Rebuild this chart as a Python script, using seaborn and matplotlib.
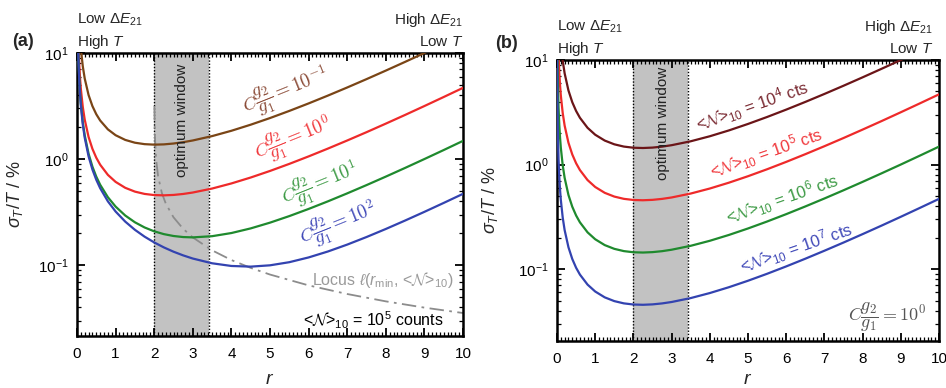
import numpy as np
import pandas as pd
import matplotlib
matplotlib.use("Agg")
import matplotlib.pyplot as plt
import matplotlib.transforms as mtransforms
import seaborn as sns
from matplotlib.ticker import MultipleLocator, LogLocator, NullFormatter, FixedLocator

# ---------------- data ----------------
r = [0.003, 0.005, 0.01, 0.02, 0.04, 0.06, 0.08, 0.1, 0.15, 0.2, 0.3, 0.4, 0.5, 0.6,
     0.8, 1.0, 1.25, 1.5, 1.75, 2.0, 2.25, 2.5, 2.75, 3.0, 3.5, 4.0, 4.5, 5.0, 5.5,
     6.0, 6.5, 7.0, 7.5, 8.0, 8.5, 9.0, 9.5, 10.0]

# panel (a): <N>_10 = 1e5 counts, different C g2/g1
a_brown = [350.1, 210.2, 105.4, 52.92, 26.70, 17.96, 13.60, 10.98, 7.489, 5.748, 4.014,
           3.154, 2.645, 2.311, 1.906, 1.679, 1.516, 1.427, 1.383, 1.368, 1.376, 1.402,
           1.443, 1.498, 1.647, 1.849, 2.110, 2.437, 2.845, 3.348, 3.968, 4.731, 5.670,
           6.825, 8.248, 10.00, 12.17, 14.84]
a_red = [149.2, 89.55, 44.83, 22.47, 11.29, 7.568, 5.705, 4.588, 3.100, 2.357, 1.616,
         1.248, 1.029, 0.8854, 0.7099, 0.6098, 0.5361, 0.4936, 0.4696, 0.4580, 0.4552,
         0.4593, 0.4691, 0.4840, 0.5277, 0.5895, 0.6704, 0.7731, 0.9012, 1.060, 1.256,
         1.497, 1.793, 2.159, 2.608, 3.163, 3.848, 4.693]
a_green = [110.6, 66.35, 33.18, 16.60, 8.307, 5.543, 4.161, 3.333, 2.227, 1.675, 1.123,
           0.8475, 0.6826, 0.5731, 0.4371, 0.3566, 0.2938, 0.2537, 0.2268, 0.2085, 0.1962,
           0.1884, 0.1841, 0.1828, 0.1876, 0.2009, 0.2222, 0.2517, 0.2902, 0.3389, 0.3997,
           0.4752, 0.5685, 0.6836, 0.8256, 1.001, 1.217, 1.485]
a_blue = [105.9, 63.56, 31.78, 15.89, 7.947, 5.298, 3.974, 3.180, 2.120, 1.591, 1.061,
          0.7964, 0.6377, 0.5318, 0.3997, 0.3205, 0.2574, 0.2155, 0.1858, 0.1639, 0.1471,
          0.1340, 0.1237, 0.1155, 0.1042, 0.0983, 0.0969, 0.0997, 0.1067, 0.1183, 0.1346,
          0.1563, 0.1842, 0.2194, 0.2635, 0.3182, 0.3862, 0.4704]
a_labels = [r"$C\dfrac{g_2}{g_1} = 10^{-1}$", r"$C\dfrac{g_2}{g_1} = 10^{0}$",
            r"$C\dfrac{g_2}{g_1} = 10^{1}$", r"$C\dfrac{g_2}{g_1} = 10^{2}$"]

r_locus = [2.005, 2.01, 2.02, 2.05, 2.1, 2.2, 2.3, 2.5, 2.75, 3.0, 3.5, 4.0, 4.5, 5.0,
           6.0, 7.0, 8.0, 9.0, 10.0]
locus = [3.16, 2.23, 1.573, 0.988, 0.690, 0.4767, 0.3807, 0.2828, 0.2202, 0.1826, 0.1380,
         0.1118, 0.0943, 0.0816, 0.0645, 0.0535, 0.0456, 0.0398, 0.0354]

# panel (b): C g2/g1 = 1, different <N>_10
b_darkred = [471.8, 283.2, 141.8, 71.07, 35.71, 23.93, 18.04, 14.51, 9.802, 7.452, 5.110,
             3.946, 3.255, 2.800, 2.245, 1.928, 1.695, 1.561, 1.485, 1.448, 1.439, 1.452,
             1.483, 1.531, 1.669, 1.864, 2.120, 2.445, 2.850, 3.352, 3.971, 4.733, 5.671,
             6.826, 8.249, 10.00, 12.17, 14.84]
b_red = [149.2, 89.55, 44.83, 22.47, 11.29, 7.568, 5.705, 4.588, 3.100, 2.357, 1.616,
         1.248, 1.029, 0.8854, 0.7099, 0.6098, 0.5361, 0.4936, 0.4696, 0.4580, 0.4552,
         0.4593, 0.4691, 0.4840, 0.5277, 0.5895, 0.6704, 0.7731, 0.9012, 1.060, 1.256,
         1.497, 1.793, 2.159, 2.608, 3.163, 3.848, 4.693]
b_green = [47.18, 28.32, 14.18, 7.107, 3.571, 2.393, 1.804, 1.451, 0.9802, 0.7452, 0.5110,
           0.3946, 0.3255, 0.2800, 0.2245, 0.1928, 0.1695, 0.1561, 0.1485, 0.1448, 0.1439,
           0.1452, 0.1483, 0.1531, 0.1669, 0.1864, 0.2120, 0.2445, 0.2850, 0.3352, 0.3971,
           0.4733, 0.5671, 0.6826, 0.8249, 1.000, 1.217, 1.484]
b_blue = [14.92, 8.955, 4.483, 2.247, 1.129, 0.7568, 0.5705, 0.4588, 0.3100, 0.2357, 0.1616,
          0.1248, 0.1029, 0.08854, 0.07099, 0.06098, 0.05361, 0.04936, 0.04696, 0.04580,
          0.04552, 0.04593, 0.04691, 0.04840, 0.05277, 0.05895, 0.06704, 0.07731, 0.09012,
          0.1060, 0.1256, 0.1497, 0.1793, 0.2159, 0.2608, 0.3163, 0.3848, 0.4693]
b_labels = [r"<$\mathcal{N}$>$_{10}$ = 10$^{4}$ cts", r"<$\mathcal{N}$>$_{10}$ = 10$^{5}$ cts",
            r"<$\mathcal{N}$>$_{10}$ = 10$^{6}$ cts", r"<$\mathcal{N}$>$_{10}$ = 10$^{7}$ cts"]

window = [2.0, 3.42]
xticks = [0, 1, 2, 3, 4, 5, 6, 7, 8, 9, 10]

# ---------------- style ----------------
sns.set_style("ticks")
plt.rcParams.update({
    "font.family": ["Liberation Sans", "DejaVu Sans"],
    "mathtext.fontset": "custom",
    "mathtext.rm": "Liberation Sans",
    "mathtext.it": "Liberation Sans:italic",
    "mathtext.bf": "Liberation Sans:bold",
    "mathtext.cal": "cmsy10",
    "axes.linewidth": 1.8,
    "axes.edgecolor": "black",
})

col_a = ["#7a4516", "#ee2a2a", "#1f8a2e", "#3343b0"]
col_at = ["#8a4a36", "#f0383c", "#3c9a44", "#3f48b8"]
col_b = ["#6b1518", "#ee2a2a", "#1f8a2e", "#3343b0"]
col_bt = ["#7a2a32", "#f0383c", "#3c9a44", "#3f48b8"]

W, H = 946, 388
fig = plt.figure(figsize=(W / 100, H / 100), dpi=100)
axa = fig.add_axes([77 / W, 1 - 336 / H, (463 - 77) / W, (336 - 53) / H])
axb = fig.add_axes([557 / W, 1 - 341 / H, (939 - 557) / W, (341 - 60) / H])


def style_axis(ax, ymin):
    ax.set_yscale("log")
    ax.set_xlim(0, 10)
    ax.set_ylim(ymin, 10)
    ax.xaxis.set_major_locator(FixedLocator(xticks))
    ax.xaxis.set_minor_locator(MultipleLocator(0.1))
    ax.yaxis.set_major_locator(LogLocator(base=10, numticks=10))
    ax.yaxis.set_minor_locator(LogLocator(base=10, subs=np.arange(2, 10), numticks=20))
    ax.yaxis.set_minor_formatter(NullFormatter())
    ax.tick_params(which="both", direction="in", top=True, right=True, colors="black",
                   labelsize=11)
    ax.tick_params(which="major", length=6, width=1.3)
    ax.tick_params(which="minor", length=3, width=0.9)
    ax.tick_params(axis="x", which="major", pad=8)
    ax.tick_params(axis="y", which="major", pad=6)
    for s in ax.spines.values():
        s.set_visible(True)
        s.set_linewidth(1.8)
    ax.set_facecolor("white")
    ax.axvspan(window[0], window[1], color="#c2c2c2", zorder=0, lw=0)
    for xv in window:
        ax.axvline(xv, color="black", ls=(0, (1, 1.3)), lw=1.0, zorder=1)
    ax.set_xlabel(r"$r$", fontsize=14)
    ax.set_ylabel(r"$\sigma_T$/$T$ / %", fontsize=13)
    trans = mtransforms.blended_transform_factory(ax.transData, ax.transAxes)
    return trans


def draw_lines(ax, series, colors):
    for vals, c in zip(series, colors):
        df = pd.DataFrame({"r": r, "s": vals})
        sns.lineplot(data=df, x="r", y="s", ax=ax, color=c, linewidth=1.6,
                     legend=False, zorder=3)


# ---------------- panel (a) ----------------
draw_lines(axa, [a_brown, a_red, a_green, a_blue], col_a)
dfl = pd.DataFrame({"r": r_locus, "s": locus})
sns.lineplot(data=dfl, x="r", y="s", ax=axa, color="#8c8c8c", linewidth=1.3,
             linestyle=(0, (8, 3, 1.5, 3)), legend=False, zorder=2)
ta = style_axis(axa, 0.0215)
axa.xaxis.set_label_coords(0.5, -0.125)
axa.yaxis.set_label_coords(-0.135, 0.5)

pos_a = [(5.4, 4.4), (5.6, 1.55), (6.3, 0.58), (6.76, 0.245)]
for (x, y), lab, c in zip(pos_a, a_labels, col_at):
    axa.text(x, y, lab, color=c, fontsize=13.5, rotation=22, ha="center", va="center",
             math_fontfamily="cm", rotation_mode="anchor", zorder=5)
axa.text(2.71, 2.3, "optimum window", rotation=90, ha="center", va="center",
         fontsize=11, color="#222222", zorder=5)
axa.text(6.1, 0.072, r"Locus $\ell$($r_{\rm min}$, <$\mathcal{N}$>$_{10}$)",
         color="#9a9a9a", fontsize=11.5, ha="left", va="center", zorder=5)
axa.text(5.85, 0.0305, r"<$\mathcal{N}$>$_{10}$ = 10$^{5}$ counts", color="black",
         fontsize=11.5, ha="left", va="center", zorder=5)

axa.text(0, 1.117, r"Low $\Delta E_{21}$", transform=ta, ha="left", va="center", fontsize=11)
axa.text(0, 1.039, r"High $T$", transform=ta, ha="left", va="center", fontsize=11)
axa.text(10, 1.117, r"High $\Delta E_{21}$", transform=ta, ha="right", va="center", fontsize=11)
axa.text(10, 1.039, r"Low $T$", transform=ta, ha="right", va="center", fontsize=11)
fig.text(12 / W, 1 - 42 / H, "(a)", fontsize=13, fontweight="bold", ha="left", va="center")

# ---------------- panel (b) ----------------
draw_lines(axb, [b_darkred, b_red, b_green, b_blue], col_b)
tb = style_axis(axb, 0.0205)
axb.xaxis.set_label_coords(0.5, -0.108)
axb.yaxis.set_label_coords(-0.15, 0.5)

pos_b = [(5.12, 3.6), (5.48, 1.28), (5.9, 0.47), (6.27, 0.159)]
for (x, y), lab, c in zip(pos_b, b_labels, col_bt):
    axb.text(x, y, lab, color=c, fontsize=12, rotation=19, ha="center", va="center",
             rotation_mode="anchor", zorder=5)
axb.text(2.77, 2.45, "optimum window", rotation=90, ha="center", va="center",
         fontsize=11, color="#222222", zorder=5)
axb.text(8.64, 0.0346, r"$C\dfrac{g_2}{g_1} = 10^{0}$", color="#555555", fontsize=13,
         ha="center", va="center", math_fontfamily="cm", zorder=5)

axb.text(0, 1.117, r"Low $\Delta E_{21}$", transform=tb, ha="left", va="center", fontsize=11)
axb.text(0, 1.039, r"High $T$", transform=tb, ha="left", va="center", fontsize=11)
axb.text(9.85, 1.117, r"High $\Delta E_{21}$", transform=tb, ha="right", va="center", fontsize=11)
axb.text(9.85, 1.039, r"Low $T$", transform=tb, ha="right", va="center", fontsize=11)
fig.text(495 / W, 1 - 43 / H, "(b)", fontsize=13, fontweight="bold", ha="left", va="center")

fig.savefig("out.png", dpi=100, facecolor="white")
